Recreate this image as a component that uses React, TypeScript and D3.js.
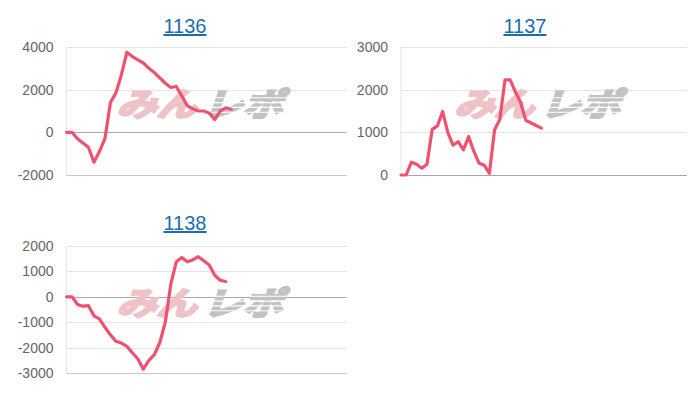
import React, { useEffect, useRef } from "react";
import * as d3 from "d3";

// slot 1136 – difference per data point
const values1136 = [
  0, 0, -300, -500, -700, -1400, -900, -300, 1400, 1850, 2700, 3750, 3550, 3400,
  3250, 3000, 2800, 2550, 2300, 2100, 2150, 1700, 1250, 1100, 1000, 1000, 900,
  600, 1000, 1150, 1080,
];
// slot 1137
const values1137 = [
  0, 0, 300, 250, 160, 250, 1070, 1150, 1490, 1000, 700, 780, 590, 900, 560, 280,
  230, 40, 1060, 1300, 2230, 2230, 1950, 1700, 1280, 1220, 1160, 1100,
];
// slot 1138
const values1138 = [
  0, 0, -300, -370, -350, -750, -870, -1200, -1500, -1750, -1820, -1950, -2200,
  -2450, -2850, -2500, -2280, -1800, -1000, 500, 1380, 1550, 1380, 1450, 1580,
  1420, 1250, 850, 650, 600,
];

const titles = ["1136", "1137", "1138"];
const ticks1136 = [-2000, 0, 2000, 4000];
const ticks1137 = [0, 1000, 2000, 3000];
const ticks1138 = [-3000, -2000, -1000, 0, 1000, 2000];

interface Panel {
  title: string;
  values: number[];
  ticks: number[];
  slots: number;
  left: number;
  right: number;
  top: number;
  bottom: number;
  titleX: number;
  titleY: number;
}

const panels: Panel[] = [
  { title: titles[0], values: values1136, ticks: ticks1136, slots: 51, left: 66.5, right: 346.5, top: 47, bottom: 175, titleX: 185, titleY: 33 },
  { title: titles[1], values: values1137, ticks: ticks1137, slots: 55, left: 401, right: 687, top: 47, bottom: 175, titleX: 525, titleY: 33 },
  { title: titles[2], values: values1138, ticks: ticks1138, slots: 51, left: 66.5, right: 346.5, top: 246, bottom: 373, titleX: 185, titleY: 230 },
];

const LINE_COLOR = "#ef5270";

const App: React.FC = () => {
  const svgRef = useRef<SVGSVGElement | null>(null);

  useEffect(() => {
    if (!svgRef.current) return;
    const svg = d3.select(svgRef.current);
    svg.selectAll("*").remove();

    panels.forEach((p) => {
      const g = svg.append("g");
      const x = d3.scaleLinear().domain([0, p.slots]).range([p.left, p.right]);
      const y = d3
        .scaleLinear()
        .domain([d3.min(p.ticks)!, d3.max(p.ticks)!])
        .range([p.bottom, p.top]);

      // title (link style)
      g.append("text")
        .attr("x", p.titleX)
        .attr("y", p.titleY)
        .attr("text-anchor", "middle")
        .attr("font-family", "Liberation Sans, Arial, sans-serif")
        .attr("font-size", 20)
        .attr("fill", "#1b6db3")
        .attr("text-decoration", "underline")
        .text(p.title);

      // grid lines
      p.ticks.forEach((t) => {
        const isZero = t === 0;
        const isBottom = t === d3.min(p.ticks);
        g.append("line")
          .attr("x1", p.left)
          .attr("x2", p.right)
          .attr("y1", Math.round(y(t)) + 0.5)
          .attr("y2", Math.round(y(t)) + 0.5)
          .attr("stroke", isZero ? "#a8a8a8" : isBottom ? "#c8c8c8" : "#e4e4e4")
          .attr("stroke-width", 1);
      });

      // y axis line
      g.append("line")
        .attr("x1", p.left)
        .attr("x2", p.left)
        .attr("y1", p.top)
        .attr("y2", p.bottom)
        .attr("stroke", "#e4e4e4");

      // tick labels
      g.selectAll("text.tick")
        .data(p.ticks)
        .join("text")
        .attr("class", "tick")
        .attr("x", p.left - 13)
        .attr("y", (d) => y(d))
        .attr("dy", "0.36em")
        .attr("text-anchor", "end")
        .attr("font-family", "Liberation Sans, Arial, sans-serif")
        .attr("font-size", 14)
        .attr("fill", "#666")
        .text((d) => String(d));

      // watermark
      const cx = (p.left + p.right) / 2 - 4;
      const cy = (p.top + p.bottom) / 2 - 6;
      const wm = g
        .append("g")
        .attr("transform", `translate(${cx},${cy}) scale(1,0.8) skewX(-16)`)
        .attr("font-family", "Noto Sans CJK JP, sans-serif")
        .attr("font-weight", "bold")
        .attr("font-size", 40);
      wm.append("text")
        .attr("x", -2)
        .attr("y", 14)
        .attr("text-anchor", "end")
        .attr("fill", "#efc2c7")
        .attr("stroke", "#efc2c7")
        .attr("stroke-width", 3)
        .text("みん");
      wm.append("text")
        .attr("x", 4)
        .attr("y", 14)
        .attr("text-anchor", "start")
        .attr("fill", "#c2c2c2")
        .attr("stroke", "#c2c2c2")
        .attr("stroke-width", 3)
        .text("レポ");
      [-9, -3, 3, 9].forEach((dy) => {
        wm.append("line")
          .attr("x1", 6)
          .attr("x2", 86)
          .attr("y1", dy)
          .attr("y2", dy)
          .attr("stroke", "#fff")
          .attr("stroke-width", 1.4);
      });

      // data line
      const line = d3
        .line<number>()
        .x((_, i) => x(i))
        .y((d) => y(d));
      g.append("path")
        .datum(p.values)
        .attr("d", line)
        .attr("fill", "none")
        .attr("stroke", LINE_COLOR)
        .attr("stroke-width", 3.2)
        .attr("stroke-linejoin", "round")
        .attr("stroke-linecap", "round");
    });
  }, []);

  return (
    <div style={{ position: "absolute", left: 0, top: 0, width: 700, height: 400, background: "#fff" }}>
      <svg ref={svgRef} width={700} height={400}></svg>
    </div>
  );
};

export default App;
